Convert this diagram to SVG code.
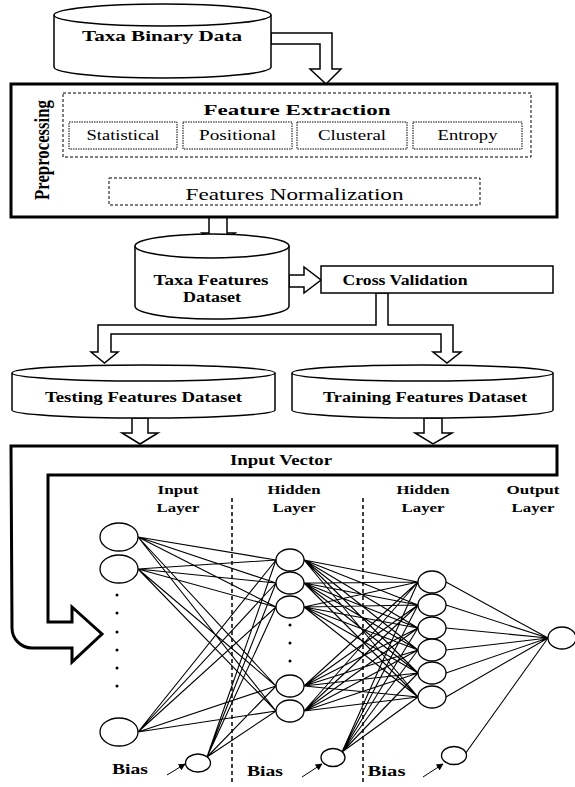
<svg xmlns="http://www.w3.org/2000/svg" width="575" height="787" viewBox="0 0 575 787">
<style>
.t{font-family:"Liberation Serif","Times New Roman",serif;fill:#000}
.b{font-weight:bold}
.shape{fill:#fff;stroke:#000;stroke-width:1.5}
.thick{fill:#fff;stroke:#000;stroke-width:3}
.dash{fill:none;stroke:#000;stroke-width:1;stroke-dasharray:3,2}
.dot{fill:none;stroke:#000;stroke-width:1;stroke-dasharray:1.5,1}
.arr{fill:#fff;stroke:#000;stroke-width:1.5;stroke-linejoin:miter}
.net{fill:none;stroke:#000;stroke-width:1.1}
.neu{fill:#fff;stroke:#000;stroke-width:1.3}
.vline{stroke:#000;stroke-width:1.5;stroke-dasharray:4,3}
</style>
<defs>
<marker id="ah" viewBox="0 0 10 10" refX="9" refY="5" markerWidth="7" markerHeight="7" orient="auto">
<path d="M0,0L10,5L0,10Z" fill="#000"/>
</marker>
</defs>
<rect width="575" height="787" fill="#fff"/>

<g id="connectors">
<polygon class="arr" points="271,33 332,33 332,69 341,69 326,84 310,69 320,69 320,44 271,44"/>
<polygon class="arr" points="287,157 299,157 299,172 306,172 293,181 280,172 287,172"/>
<polygon class="arr" points="209,217 227,217 227,233 235,233 218,245 202,233 209,233"/>
<polygon class="arr" points="289,275 304,275 304,267 321,280 304,293 304,287 289,287"/>
<polygon class="arr" points="376,293 376,325 98,325 98,352 91,352 104.5,363 118,352 111,352 111,334 441,334 441,352 433,352 447,363 461,352 453,352 453,325 388,325 388,293"/>
<polygon class="arr" points="132,418 148,418 148,433 158,433 140,444 122,433 132,433"/>
<polygon class="arr" points="424,418 442,418 442,433 452,433 433,444 415,433 424,433"/>
<path class="net" d="M138,537L276,560M138,537L276,583M138,537L276,607M138,537L276,686M138,537L276,711
M138,569L276,560M138,569L276,583M138,569L276,607M138,569L276,686M138,569L276,711
M138,732L276,560M138,732L276,583M138,732L276,607M138,732L276,686M138,732L276,711
M207,757L276,560M207,757L276,583M207,757L276,607M207,757L276,686M207,757L276,711"/>
<path class="net" d="M304,560L418,582M304,560L418,605M304,560L418,628M304,560L418,650M304,560L418,673M304,560L418,697
M304,583L418,582M304,583L418,605M304,583L418,628M304,583L418,650M304,583L418,673M304,583L418,697
M304,607L418,582M304,607L418,605M304,607L418,628M304,607L418,650M304,607L418,673M304,607L418,697
M304,686L418,582M304,686L418,605M304,686L418,628M304,686L418,650M304,686L418,673M304,686L418,697
M304,711L418,582M304,711L418,605M304,711L418,628M304,711L418,650M304,711L418,673M304,711L418,697
M342,752L418,582M342,752L418,605M342,752L418,628M342,752L418,650M342,752L418,673M342,752L418,697"/>
<path class="net" d="M446,582L548,638M446,605L548,638M446,628L548,638M446,650L548,638M446,673L548,638M446,697L548,638M465,754L548,638"/>
<line x1="167" y1="775" x2="185" y2="764" stroke="#000" stroke-width="1" marker-end="url(#ah)"/>
<line x1="302" y1="777" x2="322" y2="764" stroke="#000" stroke-width="1" marker-end="url(#ah)"/>
<line x1="423" y1="777" x2="443" y2="764" stroke="#000" stroke-width="1" marker-end="url(#ah)"/>
</g>

<g id="taxa-binary-data">
<path class="shape" d="M54,15A108,11 0 0 1 271,15L271,67A108,11 0 0 1 54,67Z"/>
<path class="shape" fill="none" d="M54,15A108,11 0 0 0 271,15"/>
<text class="t b" x="162" y="41" font-size="15" text-anchor="middle" textLength="160" lengthAdjust="spacingAndGlyphs">Taxa Binary Data</text>
</g>

<g id="preprocessing">
<rect class="thick" x="11" y="84" width="546" height="133"/>
<text class="t b" font-size="16" text-anchor="middle" transform="translate(49,150) scale(1.3,1) rotate(-90)" textLength="100" lengthAdjust="spacingAndGlyphs">Preprocessing</text>
</g>

<g id="feature-extraction">
<rect class="dash" x="63" y="93" width="468" height="64"/>
<text class="t b" x="297" y="115" font-size="15" text-anchor="middle" textLength="187" lengthAdjust="spacingAndGlyphs">Feature Extraction</text>
</g>
<g id="statistical">
<rect class="dot" x="69" y="122" width="108" height="27"/>
<text class="t" x="123" y="140" font-size="15" text-anchor="middle" textLength="73" lengthAdjust="spacingAndGlyphs">Statistical</text>
</g>
<g id="positional">
<rect class="dot" x="183" y="122" width="109" height="27"/>
<text class="t" x="237.5" y="140" font-size="15" text-anchor="middle" textLength="77" lengthAdjust="spacingAndGlyphs">Positional</text>
</g>
<g id="clusteral">
<rect class="dot" x="297" y="122" width="110" height="27"/>
<text class="t" x="352" y="140" font-size="15" text-anchor="middle" textLength="68" lengthAdjust="spacingAndGlyphs">Clusteral</text>
</g>
<g id="entropy">
<rect class="dot" x="413" y="122" width="109" height="27"/>
<text class="t" x="467.5" y="140" font-size="15" text-anchor="middle" textLength="60" lengthAdjust="spacingAndGlyphs">Entropy</text>
</g>
<g id="features-normalization">
<rect class="dash" x="109" y="178" width="371" height="27"/>
<text class="t" x="294.5" y="200" font-size="16" text-anchor="middle" textLength="218" lengthAdjust="spacingAndGlyphs">Features Normalization</text>
</g>

<g id="taxa-features-dataset">
<path class="shape" d="M135,246A77,12 0 0 1 289,246L289,306A77,13 0 0 1 135,306Z"/>
<path class="shape" fill="none" d="M135,246A77,12 0 0 0 289,246"/>
<text class="t b" x="211" y="285" font-size="14" text-anchor="middle" textLength="115" lengthAdjust="spacingAndGlyphs">Taxa Features</text>
<text class="t b" x="212" y="302" font-size="14" text-anchor="middle" textLength="58" lengthAdjust="spacingAndGlyphs">Dataset</text>
</g>

<g id="cross-validation">
<rect class="shape" x="321" y="266" width="232" height="27"/>
<text class="t b" x="405" y="285" font-size="14" text-anchor="middle" textLength="125" lengthAdjust="spacingAndGlyphs">Cross Validation</text>
</g>

<g id="testing-features-dataset">
<path class="shape" d="M12,373A131.5,8 0 0 1 275,373L275,410A131.5,8 0 0 1 12,410Z"/>
<path class="shape" fill="none" d="M12,373A131.5,8 0 0 0 275,373"/>
<text class="t b" x="143.5" y="402" font-size="14" text-anchor="middle" textLength="197" lengthAdjust="spacingAndGlyphs">Testing Features Dataset</text>
</g>

<g id="training-features-dataset">
<path class="shape" d="M292,373A130.5,8 0 0 1 553,373L553,410A130.5,8 0 0 1 292,410Z"/>
<path class="shape" fill="none" d="M292,373A130.5,8 0 0 0 553,373"/>
<text class="t b" x="425" y="402" font-size="14" text-anchor="middle" textLength="204" lengthAdjust="spacingAndGlyphs">Training Features Dataset</text>
</g>

<g id="input-vector">
<path class="thick" d="M11,446L557,446L557,475L48,475L48,622L72,622L72,607L102,634L72,662L72,648L32,648A20,20 0 0 1 12,628Z"/>
<text class="t b" x="281" y="465" font-size="14" text-anchor="middle" textLength="102" lengthAdjust="spacingAndGlyphs">Input Vector</text>
</g>

<g id="layer-labels">
<text class="t b" x="178" y="494" font-size="13" text-anchor="middle" textLength="41" lengthAdjust="spacingAndGlyphs">Input</text>
<text class="t b" x="178" y="512" font-size="13" text-anchor="middle" textLength="43" lengthAdjust="spacingAndGlyphs">Layer</text>
<text class="t b" x="294" y="494" font-size="13" text-anchor="middle" textLength="53" lengthAdjust="spacingAndGlyphs">Hidden</text>
<text class="t b" x="294" y="512" font-size="13" text-anchor="middle" textLength="43" lengthAdjust="spacingAndGlyphs">Layer</text>
<text class="t b" x="423" y="494" font-size="13" text-anchor="middle" textLength="53" lengthAdjust="spacingAndGlyphs">Hidden</text>
<text class="t b" x="423" y="512" font-size="13" text-anchor="middle" textLength="43" lengthAdjust="spacingAndGlyphs">Layer</text>
<text class="t b" x="533" y="494" font-size="13" text-anchor="middle" textLength="53" lengthAdjust="spacingAndGlyphs">Output</text>
<text class="t b" x="533" y="512" font-size="13" text-anchor="middle" textLength="43" lengthAdjust="spacingAndGlyphs">Layer</text>
</g>

<g id="layer-separators">
<line class="vline" x1="232" y1="498" x2="232" y2="785"/>
<line class="vline" x1="363" y1="498" x2="363" y2="785"/>
</g>

<g id="input-layer">
<ellipse class="neu" cx="119" cy="537" rx="19" ry="14"/>
<ellipse class="neu" cx="119" cy="569" rx="19" ry="14"/>
<ellipse class="neu" cx="119" cy="732" rx="19" ry="14"/>
<g fill="#000"><circle cx="117" cy="595" r="1.5"/><circle cx="117" cy="613" r="1.5"/><circle cx="117" cy="632" r="1.5"/><circle cx="117" cy="650" r="1.5"/><circle cx="117" cy="668" r="1.5"/><circle cx="117" cy="686" r="1.5"/></g>
</g>

<g id="hidden-layer-1">
<ellipse class="neu" cx="290" cy="560" rx="14" ry="11"/>
<ellipse class="neu" cx="290" cy="583" rx="14" ry="11"/>
<ellipse class="neu" cx="290" cy="607" rx="14" ry="11"/>
<ellipse class="neu" cx="290" cy="686" rx="14" ry="11"/>
<ellipse class="neu" cx="290" cy="711" rx="14" ry="11"/>
<g fill="#000"><circle cx="290" cy="625" r="1.5"/><circle cx="290" cy="643" r="1.5"/><circle cx="290" cy="661" r="1.5"/></g>
</g>

<g id="hidden-layer-2">
<ellipse class="neu" cx="432" cy="582" rx="14" ry="11"/>
<ellipse class="neu" cx="432" cy="605" rx="14" ry="11"/>
<ellipse class="neu" cx="432" cy="628" rx="14" ry="11"/>
<ellipse class="neu" cx="432" cy="650" rx="14" ry="11"/>
<ellipse class="neu" cx="432" cy="673" rx="14" ry="11"/>
<ellipse class="neu" cx="432" cy="697" rx="14" ry="11"/>
</g>

<g id="output-layer">
<ellipse class="neu" cx="562" cy="638" rx="14" ry="11"/>
</g>

<g id="bias-1">
<ellipse class="neu" cx="198" cy="763" rx="12.5" ry="9"/>
<text class="t b" x="130" y="774" font-size="15" text-anchor="middle" textLength="36" lengthAdjust="spacingAndGlyphs">Bias</text>
</g>
<g id="bias-2">
<ellipse class="neu" cx="333" cy="757.5" rx="12" ry="9"/>
<text class="t b" x="265" y="776" font-size="15" text-anchor="middle" textLength="36" lengthAdjust="spacingAndGlyphs">Bias</text>
</g>
<g id="bias-3">
<ellipse class="neu" cx="454" cy="755.5" rx="12.5" ry="9"/>
<text class="t b" x="386.5" y="776" font-size="15" text-anchor="middle" textLength="38" lengthAdjust="spacingAndGlyphs">Bias</text>
</g>
</svg>
